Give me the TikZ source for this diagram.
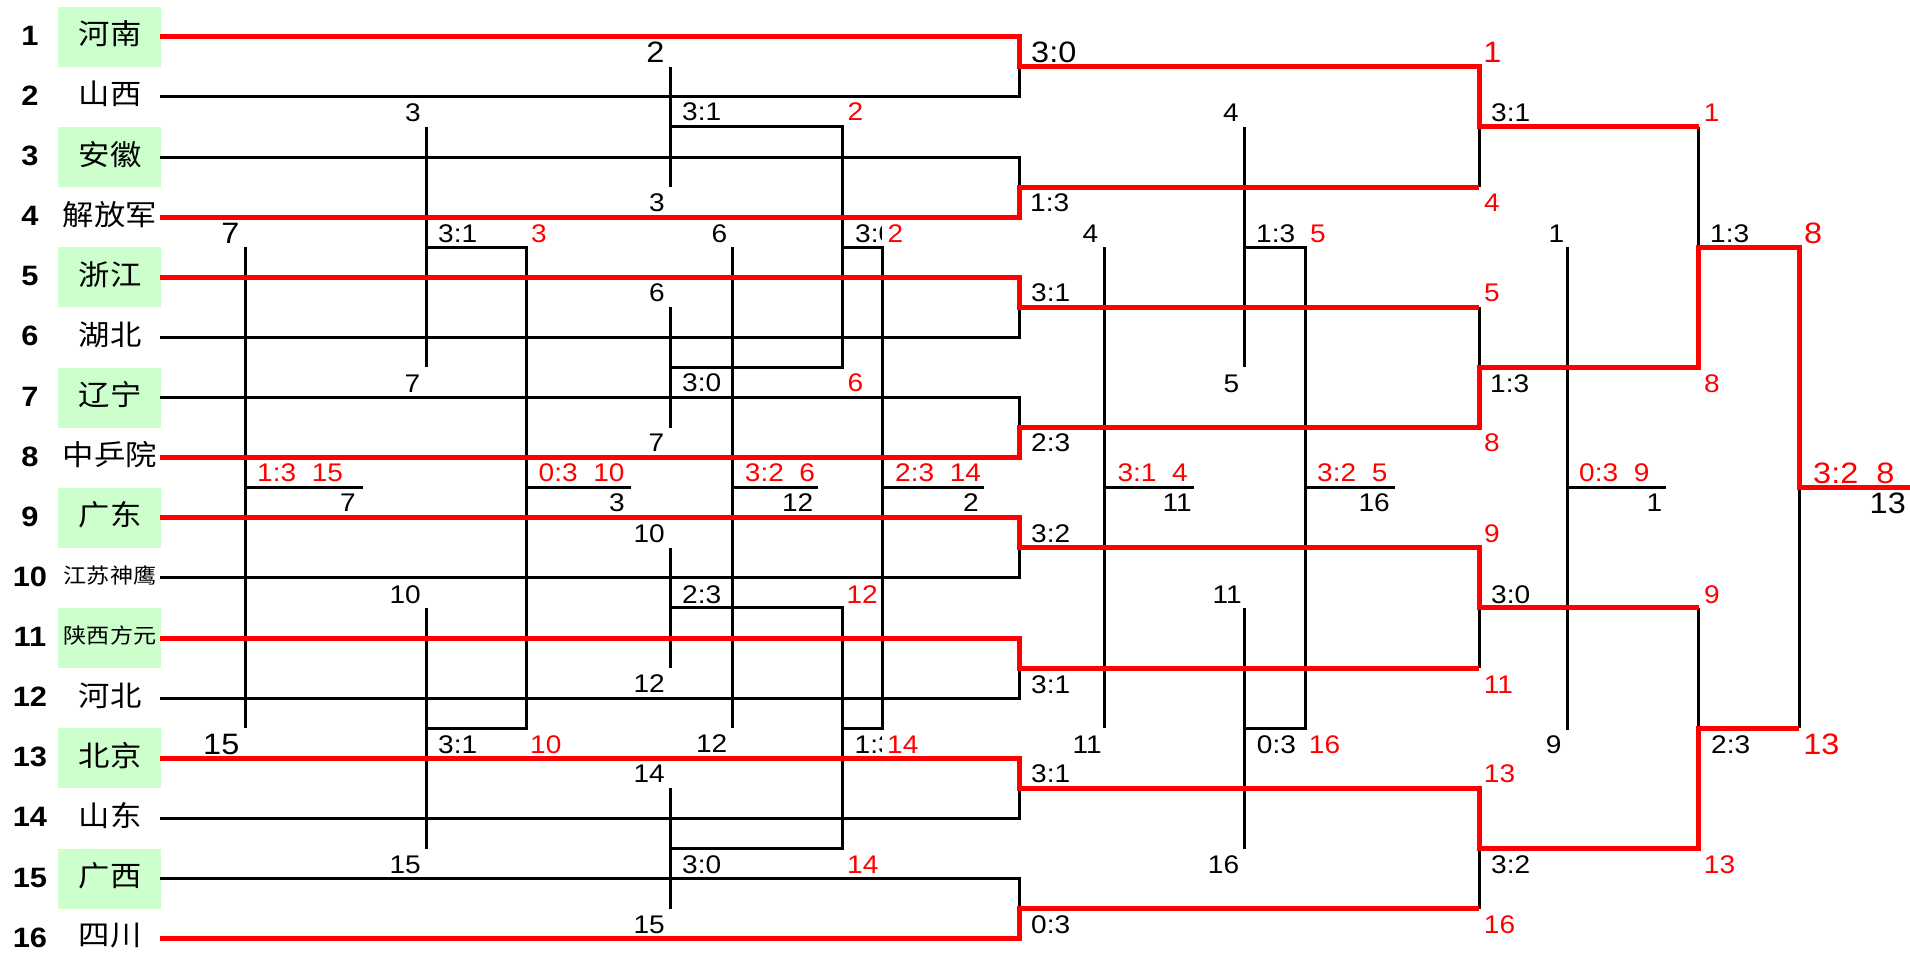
\documentclass[tikz,border=0pt]{standalone}
\usepackage{fontspec}
\newfontfamily\arial[FakeStretch=1.1]{Liberation Sans}
\newfontfamily\cjk[FakeStretch=1.1]{Noto Sans CJK SC}
\definecolor{boxgreen}{RGB}{204,255,204}
\tikzset{
  lab/.style={font=\arial\fontsize{25.5}{25.5}\selectfont, inner sep=0pt, text height=18.3pt, text depth=0pt},
  biglab/.style={font=\arial\fontsize{29.5}{29.5}\selectfont, inner sep=0pt, text height=21.1pt, text depth=0pt},
  seed/.style={font=\arial\bfseries\fontsize{28}{28}\selectfont, inner sep=0pt, text height=20pt, text depth=0pt},
  team/.style={font=\cjk\fontsize{28.5}{28.5}\selectfont, inner sep=0pt},
  teamsm/.style={font=\cjk\fontsize{21}{21}\selectfont, inner sep=0pt},
  hl/.style={fill=boxgreen, draw=none, inner sep=0pt, minimum width=103pt, minimum height=60pt},
  blk/.style={line width=3pt, black, line join=miter},
  rd/.style={line width=5pt, red, line join=miter},
  toW/.style={anchor=west}, toE/.style={anchor=east},
  rt/.style={text=red}
}
\begin{document}
\begin{tikzpicture}[x=1pt,y=-1pt]
\useasboundingbox (0,0) rectangle (1910,954);
% ---------- team column ----------
\foreach \k/\yy in {1/36.7,3/157.0,5/277.2,7/397.5,9/517.7,11/638.0,13/758.3,15/878.5}
  \node[hl] (g\k) at (109.5,\yy) {};
\foreach \k/\yy in {1/36.7,2/96.8,3/157.0,4/217.1,5/277.2,6/337.3,7/397.5,8/457.6,9/517.7,10/577.9,11/638.0,12/698.1,13/758.3,14/818.4,15/878.5,16/938.7}
  \node[seed] (s\k) at (30,\yy-1.5) {\k};
\foreach \k/\yy/\nm in {1/36.7/河南,2/96.8/山西,3/157.0/安徽,4/217.1/解放军,5/277.2/浙江,6/337.3/湖北,7/397.5/辽宁,8/457.6/中乒院,9/517.7/广东,12/698.1/河北,13/758.3/北京,14/818.4/山东,15/878.5/广西,16/938.7/四川}
  \node[team] (t\k) at (110,\yy-2.7) {\nm};
\node[teamsm] (t10) at (110,575.0) {江苏神鹰};
\node[teamsm] (t11) at (110,635.2) {陕西方元};

% ---------- black lines ----------
\draw[blk] (160,96.8) -- (1019,96.8) -- (1019,66.75);
\draw[blk] (160,157.0) -- (1019,157.0) -- (1019,187.05);
\draw[blk] (160,337.3) -- (1019,337.3) -- (1019,307.25);
\draw[blk] (160,397.5) -- (1019,397.5) -- (1019,427.55);
\draw[blk] (160,577.9) -- (1019,577.9) -- (1019,547.8);
\draw[blk] (160,698.1) -- (1019,698.1) -- (1019,668.05);
\draw[blk] (160,818.4) -- (1019,818.4) -- (1019,788.35);
\draw[blk] (160,878.5) -- (1019,878.5) -- (1019,908.6);
\draw[blk] (1479,126.9) -- (1479,187.05);
\draw[blk] (1479,367.4) -- (1479,307.25);
\draw[blk] (1479,607.9) -- (1479,668.05);
\draw[blk] (1479,848.5) -- (1479,908.6);
\draw[blk] (1698.5,247.15) -- (1698.5,126.9);
\draw[blk] (1698.5,728.2) -- (1698.5,607.9);
\draw[blk] (1799,487.7) -- (1799,728.2);
% consolation brackets
\draw[blk] (426,126.9) -- (426,367.4);
\draw[blk] (426,607.9) -- (426,848.5);
\draw[blk] (426,247.15) -- (526,247.15) -- (526,728.2) -- (426,728.2);
\draw[blk] (526,487.7) -- (631,487.7);
\draw[blk] (245,247.15) -- (245,728.2);
\draw[blk] (245,487.7) -- (363,487.7);
\draw[blk] (670.7,66.75) -- (670.7,187.05);
\draw[blk] (670.7,307.25) -- (670.7,427.55);
\draw[blk] (670.7,547.8) -- (670.7,668.05);
\draw[blk] (670.7,788.35) -- (670.7,908.6);
\draw[blk] (670.7,126.9) -- (842.3,126.9) -- (842.3,367.4) -- (670.7,367.4);
\draw[blk] (670.7,607.9) -- (842.3,607.9) -- (842.3,848.5) -- (670.7,848.5);
\draw[blk] (842.3,247.15) -- (882.7,247.15) -- (882.7,728.2) -- (842.3,728.2);
\draw[blk] (882.7,487.7) -- (984,487.7);
\draw[blk] (732.3,247.15) -- (732.3,728.2);
\draw[blk] (732.3,487.7) -- (818,487.7);
\draw[blk] (1244.3,126.9) -- (1244.3,367.4);
\draw[blk] (1244.3,607.9) -- (1244.3,848.5);
\draw[blk] (1244.3,247.15) -- (1305,247.15) -- (1305,728.2) -- (1244.3,728.2);
\draw[blk] (1305,487.7) -- (1395,487.7);
\draw[blk] (1104.3,247.15) -- (1104.3,728.2);
\draw[blk] (1104.3,487.7) -- (1194,487.7);
\draw[blk] (1567.3,247.15) -- (1567.3,730);
\draw[blk] (1567.3,487.7) -- (1665.7,487.7);

% ---------- red winner paths ----------
\draw[rd] (160,36.7) -- (1019,36.7) -- (1019,66.75) -- (1479,66.75) -- (1479,126.9) -- (1698.5,126.9);
\draw[rd] (160,217.1) -- (1019,217.1) -- (1019,187.05) -- (1479,187.05);
\draw[rd] (160,277.2) -- (1019,277.2) -- (1019,307.25) -- (1479,307.25);
\draw[rd] (160,457.6) -- (1019,457.6) -- (1019,427.55) -- (1479,427.55) -- (1479,367.4) -- (1698.5,367.4) -- (1698.5,247.15) -- (1799,247.15) -- (1799,487.7) -- (1912,487.7);
\draw[rd] (160,517.7) -- (1019,517.7) -- (1019,547.8) -- (1479,547.8) -- (1479,607.9) -- (1698.5,607.9);
\draw[rd] (160,638.0) -- (1019,638.0) -- (1019,668.05) -- (1479,668.05);
\draw[rd] (160,758.3) -- (1019,758.3) -- (1019,788.35) -- (1479,788.35) -- (1479,848.5) -- (1698.5,848.5) -- (1698.5,728.2) -- (1799,728.2);
\draw[rd] (160,938.7) -- (1019,938.7) -- (1019,908.6) -- (1479,908.6);

% ---------- main bracket labels ----------
\node[biglab,toW] (a1) at (1031,52) {3:0};
\node[lab,toW] (a2) at (1030,202) {1:3};
\node[lab,toW] (a3) at (1031,292.5) {3:1};
\node[lab,toW] (a4) at (1031,442.5) {2:3};
\node[lab,toW] (a5) at (1031,533) {3:2};
\node[lab,toW] (a6) at (1031,684) {3:1};
\node[lab,toW] (a7) at (1031,773) {3:1};
\node[lab,toW] (a8) at (1031,924.5) {0:3};

\node[lab,toW] (b1) at (1491,112) {3:1};
\node[lab,toW] (b2) at (1490,383) {1:3};
\node[lab,toW] (b3) at (1491,594) {3:0};
\node[lab,toW] (b4) at (1491,864.5) {3:2};
\node[biglab,toW,rt] (br1) at (1483.2,52) {1};
\node[lab,toW,rt] (br2) at (1484,202) {4};
\node[lab,toW,rt] (br3) at (1484,292.5) {5};
\node[lab,toW,rt] (br4) at (1484,442.5) {8};
\node[lab,toW,rt] (br5) at (1484,533.5) {9};
\node[lab,toW,rt] (br6) at (1483.7,684) {11};
\node[lab,toW,rt] (br7) at (1483.7,773.5) {13};
\node[lab,toW,rt] (br8) at (1483.7,924.5) {16};

\node[lab,toW,rt] (cr1) at (1703.7,112) {1};
\node[lab,toW,rt] (cr2) at (1704,383) {8};
\node[lab,toW,rt] (cr3) at (1704,594) {9};
\node[lab,toW,rt] (cr4) at (1703.7,864.5) {13};
\node[lab,toW] (c1) at (1710,233) {1:3};
\node[lab,toW] (c2) at (1711,744) {2:3};
\node[biglab,toW,rt] (cb1) at (1804,233) {8};
\node[biglab,toW,rt] (cb2) at (1803.2,744) {13};

\node[biglab,toW,rt] (d1) at (1813,472.5) {3:2\ \ 8};
\node[biglab,toE] (d2) at (1906,503) {13};

% ---------- consolation labels ----------
\node[lab,toE] (e1) at (421,112) {3};
\node[lab,toW] (e2) at (438,233) {3:1};
\node[lab,toW,rt] (e3) at (531,233) {3};
\node[lab,toE] (e4) at (420.5,383) {7};
\node[lab,toE] (e5) at (421,594) {10};
\node[lab,toW] (e6) at (438,744) {3:1};
\node[lab,toW,rt] (e7) at (530,744) {10};
\node[lab,toE] (e8) at (421,864.5) {15};
\node[lab,toW,rt] (e9) at (538.5,472.5) {0:3\ \ 10};
\node[lab,toE] (e10) at (625,502.5) {3};

\node[biglab,toE] (f1) at (239.5,233) {7};
\node[lab,toW,rt] (f2) at (257,472.5) {1:3\ \ 15};
\node[lab,toE] (f3) at (356,502.5) {7};
\node[biglab,toE] (f4) at (239.5,743.5) {15};

\node[biglab,toE] (h1) at (664.5,51.5) {2};
\node[lab,toW] (h2) at (682,111.5) {3:1};
\node[lab,toW,rt] (h3) at (847.5,111.5) {2};
\node[lab,toE] (h4) at (665,202.5) {3};
\node[lab,toE] (h5) at (665,292.8) {6};
\node[lab,toW] (h6) at (682,382.5) {3:0};
\node[lab,toW,rt] (h7) at (847.5,382.5) {6};
\node[lab,toE] (h8) at (664.5,442.5) {7};
\node[lab,toE] (h9) at (665,533.3) {10};
\node[lab,toW] (h10) at (682,594) {2:3};
\node[lab,toW,rt] (h11) at (846.3,594) {12};
\node[lab,toE] (h12) at (665,683.8) {12};
\node[lab,toE] (h13) at (665,773.8) {14};
\node[lab,toW] (h14) at (682,864.5) {3:0};
\node[lab,toW,rt] (h15) at (847,864.5) {14};
\node[lab,toE] (h16) at (665,924.8) {15};

\begin{scope}
  \clip (845,200) rectangle (881,270);
  \node[lab,toW] (k1) at (855,233) {3:0};
\end{scope}
\begin{scope}
  \clip (845,710) rectangle (881,780);
  \node[lab,toW] (k2) at (854.5,744) {1:3};
\end{scope}
\node[lab,toW,rt] (k3) at (887.5,233) {2};
\node[lab,toW,rt] (k4) at (887,744) {14};
\node[lab,toW,rt] (k5) at (895,472.5) {2:3\ \ 14};
\node[lab,toE] (k6) at (979,502.5) {2};

\node[lab,toE] (m1) at (727.5,233) {6};
\node[lab,toW,rt] (m2) at (744.7,472.5) {3:2\ \ 6};
\node[lab,toE] (m3) at (813.5,502.5) {12};
\node[lab,toE] (m4) at (727.5,743.5) {12};

\node[lab,toE] (n1) at (1098.5,233) {4};
\node[lab,toW,rt] (n2) at (1117.3,472.5) {3:1\ \ 4};
\node[lab,toE] (n3) at (1191.9,502.5) {11};
\node[lab,toE] (n4) at (1101.9,744) {11};

\node[lab,toE] (p1) at (1239,112) {4};
\node[lab,toW] (p2) at (1256,233) {1:3};
\node[lab,toW,rt] (p3) at (1310,233) {5};
\node[lab,toE] (p4) at (1239.3,383) {5};
\node[lab,toE] (p5) at (1241.9,594) {11};
\node[lab,toW] (p6) at (1256.7,744) {0:3};
\node[lab,toW,rt] (p7) at (1308.7,744) {16};
\node[lab,toE] (p8) at (1239.3,864.5) {16};
\node[lab,toW,rt] (p9) at (1317,472.5) {3:2\ \ 5};
\node[lab,toE] (p10) at (1390,502.5) {16};

\node[lab,toE] (q1) at (1564.5,233) {1};
\node[lab,toW,rt] (q2) at (1579,472.5) {0:3\ \ 9};
\node[lab,toE] (q3) at (1662.5,502.5) {1};
\node[lab,toE] (q4) at (1561.7,744) {9};
\end{tikzpicture}
\end{document}
